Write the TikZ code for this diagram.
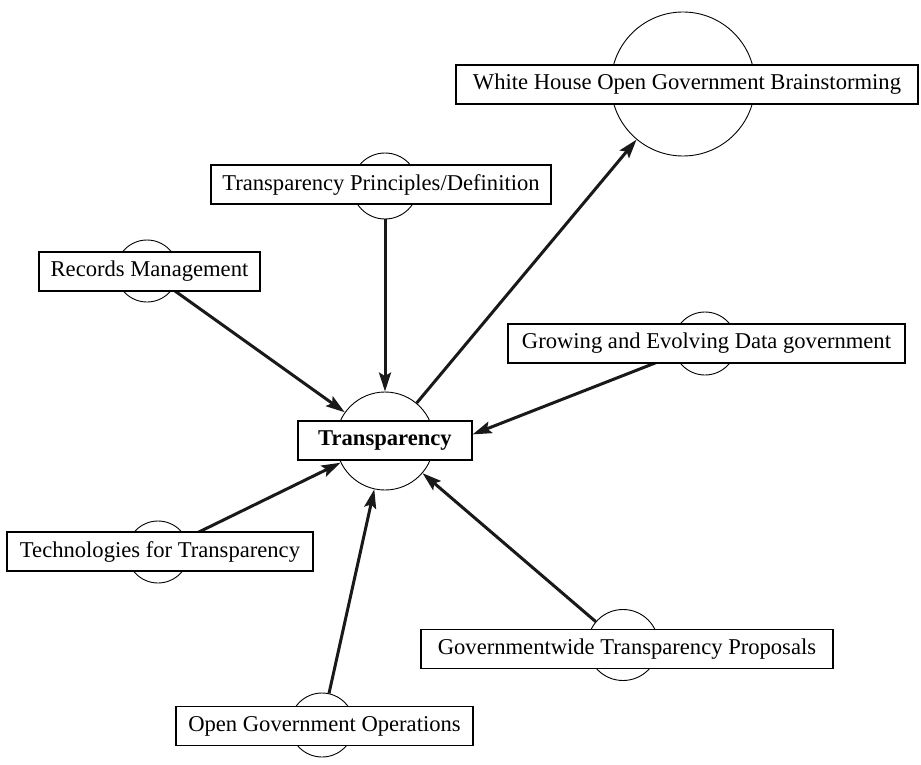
\documentclass[tikz,border=0pt]{standalone}
\usepackage{fontspec}
\setmainfont{Liberation Serif}
\usetikzlibrary{arrows.meta,backgrounds}
\begin{document}
\begin{tikzpicture}[x=1pt,y=-1pt,
  hub/.style={circle,draw,line width=0.9pt,inner sep=0pt,minimum size=#1},
  labelbox/.style={draw,line width=1.3pt,fill=white,inner sep=0pt,
    minimum height=39pt,minimum width=#1,font=\fontsize{22.6}{27}\selectfont},
  link/.style={line width=3pt,draw=black!90,
    -{Stealth[length=19pt,width=12pt,inset=3.5pt]}}
]
\useasboundingbox (0,0) rectangle (921,765);

% circles behind the labels
\node[hub=144pt] (whc) at (683,84) {};
\node[hub=66pt]  (tpc) at (385,186) {};
\node[hub=62pt]  (rmc) at (147,271) {};
\node[hub=63pt]  (grc) at (705,343.5) {};
\node[hub=98pt]  (trc) at (385,441) {};
\node[hub=62pt]  (tec) at (158,552) {};
\node[hub=71pt]  (gwc) at (623,645) {};
\node[hub=64pt]  (ogc) at (322,725) {};

% labels
\node[labelbox=462pt] (wh) at (687,84.5) {White House Open Government Brainstorming};
\node[labelbox=340pt] (tp) at (381,184.5) {Transparency Principles/Definition};
\node[labelbox=221pt] (rm) at (149.5,271.5) {Records Management};
\node[labelbox=397pt] (gr) at (706.5,343.5) {Growing and Evolving Data government};
\node[labelbox=174pt,font=\fontsize{22.6}{27}\selectfont\bfseries] (tr) at (385,440.5) {Transparency};
\node[labelbox=306pt] (te) at (160,551.5) {Technologies for Transparency};
\node[labelbox=412pt] (gw) at (627,649) {Governmentwide Transparency Proposals};
\node[labelbox=297pt] (og) at (324.5,726) {Open Government Operations};

% connectors run underneath the labels
\begin{scope}[on background layer]
  \draw[link] (rmc) -- (trc);
  \draw[link] (tpc) -- (trc);
  \draw[link] (trc) -- (whc);
  \draw[link] (grc) -- (tr.4);
  \draw[link] (tec) -- (trc);
  \draw[link] (ogc) -- (trc);
  \draw[link] (gwc) -- (trc);
\end{scope}
\end{tikzpicture}
\end{document}
